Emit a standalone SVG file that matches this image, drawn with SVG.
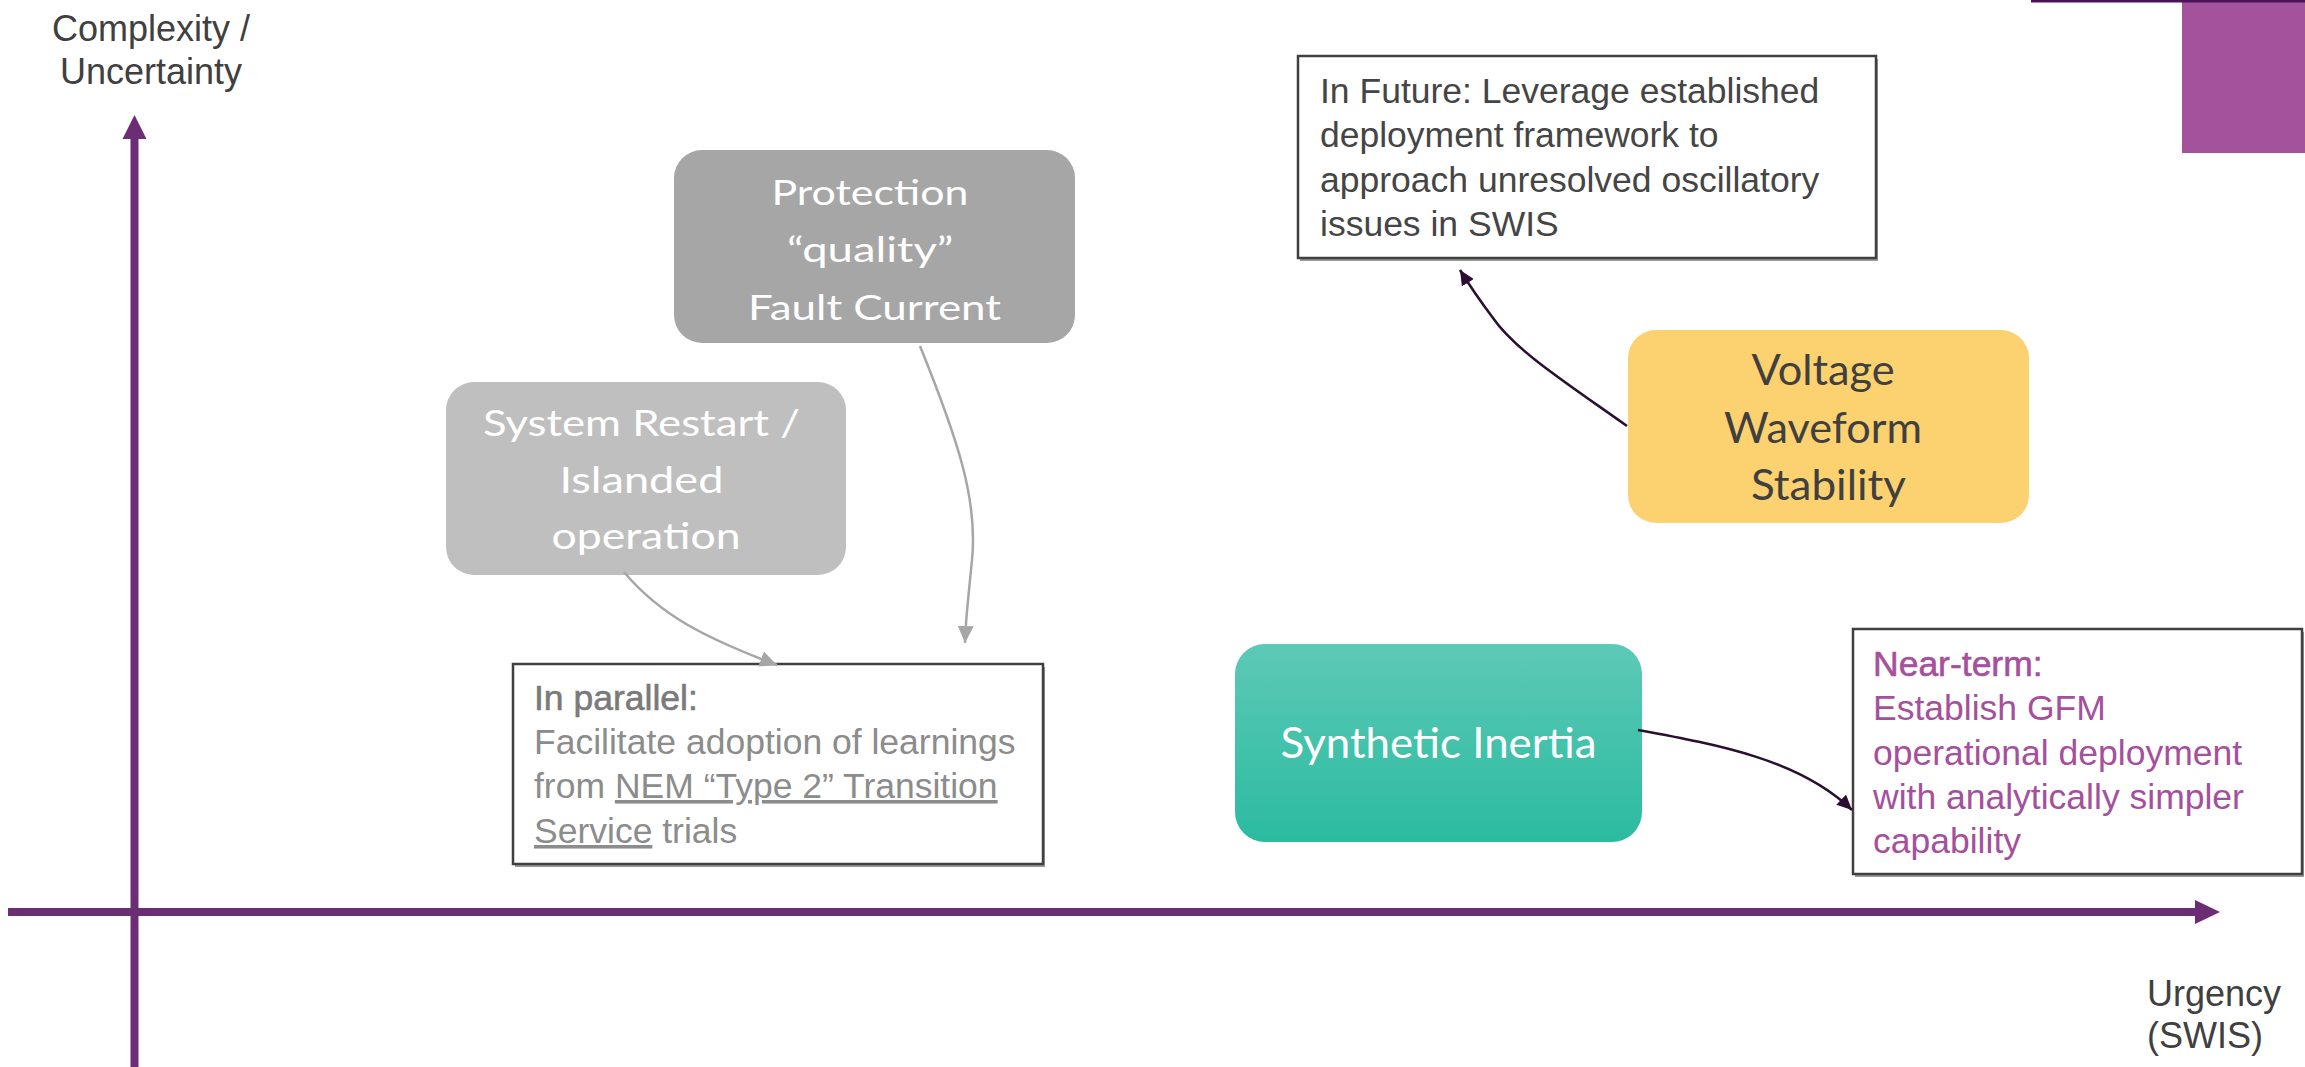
<svg xmlns="http://www.w3.org/2000/svg" width="2305" height="1067" viewBox="0 0 2305 1067">
  <style>
    .axis { stroke: #6B2E74; stroke-width: 8; fill: none; }
    .axisHead { fill: #6B2E74; }
    .lbl { font-family: "Liberation Sans", Arial, sans-serif; font-size: 36px; fill: #404040; }
    .note { font-family: "Liberation Sans", Arial, sans-serif; font-size: 35.5px; }
    .box { fill: #FFFFFF; stroke: #404040; stroke-width: 2.5; }
    .shadow { fill: #9A9A9A; }
    .node { font-family: Lato, "Open Sans", sans-serif; text-anchor: middle; }
    .gray { stroke: #A6A6A6; stroke-width: 2.5; fill: none; }
    .dark { stroke: #2B0F30; stroke-width: 2.5; fill: none; }
  </style>
  <defs>
    <linearGradient id="teal" x1="0" y1="0" x2="0" y2="1">
      <stop offset="0" stop-color="#5DC9B6"/>
      <stop offset="1" stop-color="#2BBBA1"/>
    </linearGradient>
    <marker id="arrGray" markerUnits="userSpaceOnUse" markerWidth="18" markerHeight="16" refX="17" refY="8" orient="auto">
      <path d="M0,0 L17,8 L0,16 z" fill="#A6A6A6"/>
    </marker>
    <marker id="arrDark" markerUnits="userSpaceOnUse" markerWidth="16" markerHeight="14" refX="15" refY="7" orient="auto">
      <path d="M0,0 L15,7 L0,14 z" fill="#2B0F30"/>
    </marker>
  </defs>

  <rect width="2305" height="1067" fill="#FFFFFF"/>

  <!-- decoration top right -->
  <g id="corner">
    <rect x="2182" y="0" width="123" height="153" fill="#A3529B"/>
    <rect x="2031" y="0" width="274" height="2.5" fill="#4B1458"/>
  </g>

  <!-- axes -->
  <g id="axes">
    <line class="axis" x1="134.5" y1="136" x2="134.5" y2="1067"/>
    <polygon class="axisHead" points="134.5,115 122.5,139 146.5,139"/>
    <line class="axis" x1="8" y1="912" x2="2197" y2="912"/>
    <polygon class="axisHead" points="2220,912 2195,900 2195,924"/>
    <text class="lbl" text-anchor="middle"><tspan x="151" y="41">Complexity /</tspan><tspan x="151" y="84">Uncertainty</tspan></text>
    <text class="lbl"><tspan x="2147" y="1006">Urgency</tspan><tspan x="2147" y="1048">(SWIS)</tspan></text>
  </g>

  <!-- nodes -->
  <g id="protection">
    <rect x="674" y="150" width="401" height="193" rx="28" fill="#A6A6A6"/>
    <text class="node" font-size="35" fill="#FFFFFF">
      <tspan x="874.5" y="205" textLength="197" lengthAdjust="spacingAndGlyphs">Protection</tspan>
      <tspan x="874.5" y="262" textLength="166" lengthAdjust="spacingAndGlyphs">“quality”</tspan>
      <tspan x="874.5" y="320" textLength="253" lengthAdjust="spacingAndGlyphs">Fault Current</tspan>
    </text>
  </g>

  <g id="restart">
    <rect x="446" y="382" width="400" height="193" rx="28" fill="#BFBFBF"/>
    <text class="node" font-size="36" fill="#FFFFFF">
      <tspan x="646" y="436" textLength="317" lengthAdjust="spacingAndGlyphs">System Restart /</tspan>
      <tspan x="646" y="493" textLength="164" lengthAdjust="spacingAndGlyphs">Islanded</tspan>
      <tspan x="646" y="549" textLength="189" lengthAdjust="spacingAndGlyphs">operation</tspan>
    </text>
  </g>

  <g id="voltage">
    <rect x="1628" y="330" width="401" height="193" rx="28" fill="#FCD16F"/>
    <text class="node" font-size="42" fill="#404040">
      <tspan x="1828.5" y="385" textLength="143" lengthAdjust="spacingAndGlyphs">Voltage</tspan>
      <tspan x="1828.5" y="443" textLength="198" lengthAdjust="spacingAndGlyphs">Waveform</tspan>
      <tspan x="1828.5" y="500" textLength="155" lengthAdjust="spacingAndGlyphs">Stability</tspan>
    </text>
  </g>

  <g id="synthetic">
    <rect x="1235" y="644" width="407" height="198" rx="30" fill="url(#teal)"/>
    <text class="node" font-size="43" fill="#FFFFFF">
      <tspan x="1438.5" y="758" textLength="316" lengthAdjust="spacingAndGlyphs">Synthetic Inertia</tspan>
    </text>
  </g>

  <g id="future">
    <rect class="shadow" x="1300" y="59" width="578" height="202"/>
    <rect class="box" x="1298" y="56" width="578" height="202"/>
    <text class="note" fill="#454545">
      <tspan x="1320" y="103">In Future: Leverage established</tspan>
      <tspan x="1320" y="147">deployment framework to</tspan>
      <tspan x="1320" y="191.5">approach unresolved oscillatory</tspan>
      <tspan x="1320" y="236">issues in SWIS</tspan>
    </text>
  </g>

  <g id="parallel">
    <rect class="shadow" x="515" y="667" width="530" height="200"/>
    <rect class="box" x="513" y="664" width="530" height="200"/>
    <text class="note" fill="#8C8C8C">
      <tspan x="534" y="710" fill="#7A7A7A" stroke="#7A7A7A" stroke-width="0.6">In parallel:</tspan>
      <tspan x="534" y="754">Facilitate adoption of learnings</tspan>
      <tspan x="534" y="798">from <tspan text-decoration="underline">NEM “Type 2” Transition</tspan></tspan>
      <tspan x="534" y="843"><tspan text-decoration="underline">Service</tspan> trials</tspan>
    </text>
  </g>

  <g id="nearterm">
    <rect class="shadow" x="1855" y="632" width="449" height="245"/>
    <rect class="box" x="1853" y="629" width="449" height="245"/>
    <text class="note" fill="#A5509C">
      <tspan x="1873" y="676" stroke="#A5509C" stroke-width="0.6">Near-term:</tspan>
      <tspan x="1873" y="720">Establish GFM</tspan>
      <tspan x="1873" y="764.5">operational deployment</tspan>
      <tspan x="1873" y="809">with analytically simpler</tspan>
      <tspan x="1873" y="853">capability</tspan>
    </text>
  </g>

  <!-- connectors -->
  <g id="connectors">
    <path class="gray" d="M 624 572 C 660 615, 705 638, 777 665" marker-end="url(#arrGray)"/>
    <path class="gray" d="M 920 346 C 958 440, 978 500, 972 560 S 966 620 965 643" marker-end="url(#arrGray)"/>
    <path class="dark" d="M 1627 426 C 1565 382, 1515 350, 1493 318 C 1478 298, 1468 283, 1460 270" marker-end="url(#arrDark)"/>
    <path class="dark" d="M 1638 730 C 1720 745, 1800 760, 1852 810" marker-end="url(#arrDark)"/>
  </g>
</svg>
